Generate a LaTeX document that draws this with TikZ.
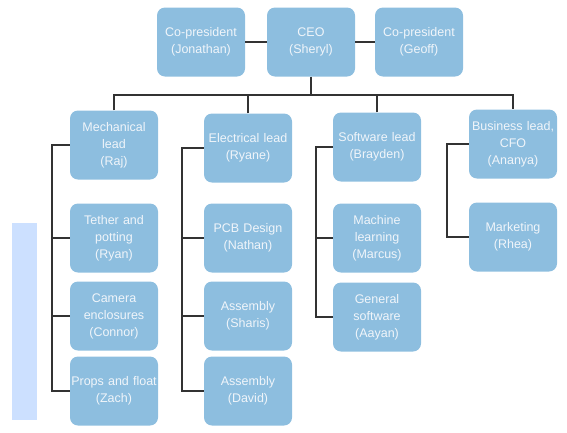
\documentclass[tikz,border=0pt]{standalone}
\usepackage{fontspec}
\setmainfont{Liberation Sans}
\definecolor{boxblue}{RGB}{141,190,223}
\definecolor{boxtext}{RGB}{240,245,250}
\definecolor{sideblue}{RGB}{204,224,255}
\definecolor{linegray}{RGB}{50,50,50}

\begin{document}
\begin{tikzpicture}[x=1pt,y=-1pt,
  box/.style={fill=boxblue,rounded corners=8pt,minimum width=88pt,minimum height=69pt,
    text width=88pt,inner sep=0pt,align=center,text=boxtext,
    font=\fontsize{12.5}{17}\selectfont},
  conn/.style={draw=linegray,line width=1.6pt}]
  \useasboundingbox (0,0) rectangle (567,432);
  \fill[sideblue] (12,223) rectangle (37,420);

  \node[box] (jon) at (201,42) {Co-president\\(Jonathan)};
  \node[box] (ceo) at (311,42) {CEO\\(Sheryl)};
  \node[box] (geoff) at (419,42) {Co-president\\(Geoff)};

  \node[box] (mech) at (114,145) {Mechanical\\lead\\(Raj)};
  \node[box] (tether) at (114,238) {Tether and\\potting\\(Ryan)};
  \node[box] (camera) at (114,316) {Camera\\enclosures\\(Connor)};
  \node[box] (props) at (114,391) {Props and float\\(Zach)};

  \node[box] (elec) at (248,148) {Electrical lead\\(Ryane)};
  \node[box] (pcb) at (248,238) {PCB Design\\(Nathan)};
  \node[box] (sharis) at (248,316) {Assembly\\(Sharis)};
  \node[box] (david) at (248,391) {Assembly\\(David)};

  \node[box] (soft) at (377,147) {Software lead\\(Brayden)};
  \node[box] (ml) at (377,238) {Machine\\learning\\(Marcus)};
  \node[box] (gen) at (377,317) {General\\software\\(Aayan)};

  \node[box] (biz) at (513,144) {Business lead,\\CFO\\(Ananya)};
  \node[box] (mkt) at (513,237) {Marketing\\(Rhea)};

  \coordinate (bar) at (0,95);
  \draw[conn] (jon.east) -- (ceo.west);
  \draw[conn] (ceo.east) -- (geoff.west);
  \draw[conn] (ceo.south) -- (ceo.south |- bar);
  \draw[conn] (mech.north) -- (mech.north |- bar) -| (biz.north);
  \draw[conn] (elec.north) -- (elec.north |- bar);
  \draw[conn] (soft.north) -- (soft.north |- bar);

  \draw[conn] (mech.west) -- ++(-18,0) |- (props.west);
  \foreach \n in {tether,camera}
    \draw[conn] (\n.west) -- ++(-18,0);
  \draw[conn] (elec.west) -- ++(-22,0) |- (david.west);
  \foreach \n in {pcb,sharis}
    \draw[conn] (\n.west) -- ++(-22,0);
  \draw[conn] (soft.west) -- ++(-17,0) |- (gen.west);
  \draw[conn] (ml.west) -- ++(-17,0);
  \draw[conn] (biz.west) -- ++(-22,0) |- (mkt.west);
\end{tikzpicture}
\end{document}
